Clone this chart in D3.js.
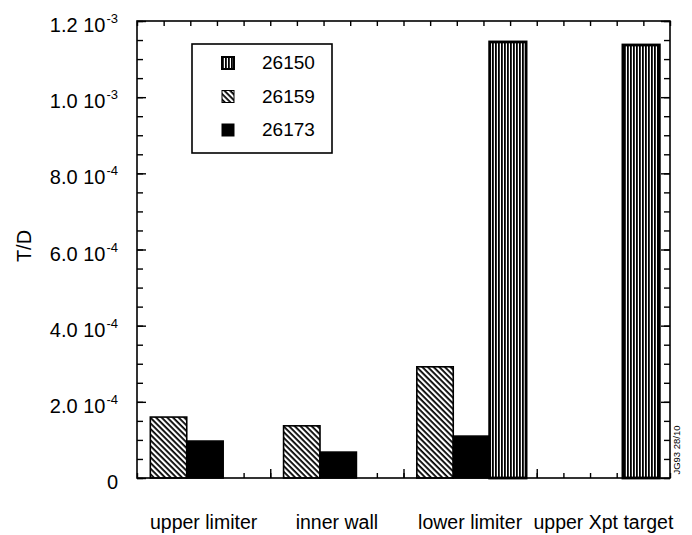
<!DOCTYPE html>
<html>
<head>
<meta charset="utf-8">
<script src="https://cdn.jsdelivr.net/npm/d3@7"></script>
<style>
  body { margin: 0; background: #fff; }
  svg { display: block; font-family: 'Liberation Sans', Arial, sans-serif; }
</style>
</head>
<body>
<svg width="692" height="535"></svg>
<script>
'use strict'

const categories = ['upper limiter', 'inner wall', 'lower limiter', 'upper Xpt target']
const barOrder = ['26159', '26173', '26150']
const legendOrder = ['26150', '26159', '26173']
const shot26150 = [null, null, 1.145e-3, 1.137e-3]
const shot26159 = [1.60e-4, 1.37e-4, 2.92e-4, null]
const shot26173 = [0.97e-4, 0.68e-4, 1.10e-4, null]
const tickValues = [0, 2e-4, 4e-4, 6e-4, 8e-4, 1.0e-3, 1.2e-3]
const tickMantissa = ['0', '2.0 10', '4.0 10', '6.0 10', '8.0 10', '1.0 10', '1.2 10']
const tickExponent = [null, '-4', '-4', '-4', '-4', '-3', '-3']

const values = { 26150: shot26150, 26159: shot26159, 26173: shot26173 }
const fills = { 26150: 'url(#vert)', 26159: 'url(#diag)', 26173: '#000' }

const plotLeft = 137
const plotRight = 670
const plotTop = 21
const plotBottom = 478

const svg = d3.select('svg')

const y = d3.scaleLinear().domain([0, 1.2e-3]).range([plotBottom, plotTop])
const x0 = d3.scaleBand().domain(categories).range([plotLeft, plotRight])
const x1 = d3.scaleBand().domain(barOrder)
  .range([x0.bandwidth() * 0.1, x0.bandwidth() * 0.92])
const xTicks = d3.scaleLinear().domain([0, 20]).range([plotLeft, plotRight])

function makePatterns () {
  const defs = svg.append('defs')

  const vert = defs.append('pattern')
    .attr('id', 'vert')
    .attr('patternUnits', 'userSpaceOnUse')
    .attr('width', 3)
    .attr('height', 10)
  vert.append('rect').attr('width', 3).attr('height', 10).attr('fill', '#fff')
  vert.append('rect').attr('width', 1.8).attr('height', 10).attr('fill', '#000')

  const diag = defs.append('pattern')
    .attr('id', 'diag')
    .attr('patternUnits', 'userSpaceOnUse')
    .attr('width', 4)
    .attr('height', 4)
    .attr('patternTransform', 'rotate(45)')
  diag.append('rect').attr('width', 4).attr('height', 4).attr('fill', '#fff')
  diag.append('rect').attr('width', 4).attr('height', 1.8).attr('fill', '#000')
}

function drawAxes () {
  const minor = d3.range(0, 24.5).map(i => i * 5e-5)

  svg.append('g')
    .attr('transform', `translate(${plotLeft},0)`)
    .call(d3.axisRight(y).tickValues(minor).tickSize(6).tickFormat(''))
  svg.append('g')
    .attr('transform', `translate(${plotLeft},0)`)
    .call(d3.axisRight(y).tickValues(tickValues).tickSize(9).tickFormat(''))
  svg.append('g')
    .attr('transform', `translate(${plotRight},0)`)
    .call(d3.axisLeft(y).tickValues(minor).tickSize(6).tickFormat(''))
  svg.append('g')
    .attr('transform', `translate(${plotRight},0)`)
    .call(d3.axisLeft(y).tickValues(tickValues).tickSize(9).tickFormat(''))

  svg.append('g')
    .attr('transform', `translate(0,${plotTop})`)
    .call(d3.axisBottom(xTicks).ticks(20).tickSize(5).tickFormat(''))
  svg.append('g')
    .attr('transform', `translate(0,${plotBottom})`)
    .call(d3.axisTop(xTicks).ticks(20).tickSize(5).tickFormat(''))
  svg.append('g')
    .attr('transform', `translate(0,${plotBottom})`)
    .call(d3.axisTop(xTicks).tickValues([5, 10, 15]).tickSize(9).tickFormat(''))

  svg.selectAll('.domain').remove()
  svg.selectAll('.tick line').attr('stroke', '#000').attr('stroke-width', 1.4)

  const labels = svg.append('g')
    .attr('font-size', 20)
    .attr('text-anchor', 'end')
  const lab = labels.selectAll('text')
    .data(tickValues)
    .enter().append('text')
    .attr('x', 118)
    .attr('y', d => y(d) + 11)
  lab.append('tspan').text((d, i) => tickMantissa[i])
  lab.filter((d, i) => tickExponent[i])
    .append('tspan')
    .attr('font-size', 13)
    .attr('dx', 1)
    .attr('dy', -9)
    .text(d => tickExponent[tickValues.indexOf(d)])

  svg.append('text')
    .attr('transform', 'translate(31,246) rotate(-90)')
    .attr('text-anchor', 'middle')
    .attr('font-size', 20)
    .text('T/D')

  svg.append('g')
    .attr('font-size', 19.5)
    .attr('text-anchor', 'middle')
    .selectAll('text')
    .data(categories)
    .enter().append('text')
    .attr('x', d => x0(d) + x0.bandwidth() / 2)
    .attr('y', 529)
    .text(d => d)
}

function drawBars () {
  const rows = []
  categories.forEach((c, i) => {
    barOrder.forEach(s => {
      if (values[s][i] != null) rows.push({ cat: c, shot: s, value: values[s][i] })
    })
  })

  svg.append('g')
    .selectAll('rect')
    .data(rows)
    .enter().append('rect')
    .attr('x', d => x0(d.cat) + x1(d.shot))
    .attr('y', d => y(d.value))
    .attr('width', x1.bandwidth())
    .attr('height', d => y(0) - y(d.value))
    .attr('fill', d => fills[d.shot])
    .attr('stroke', '#000')
    .attr('stroke-width', d => d.shot === '26150' ? 2.8 : 1.6)
}

function drawFrame () {
  svg.append('rect')
    .attr('x', plotLeft)
    .attr('y', plotTop)
    .attr('width', plotRight - plotLeft)
    .attr('height', plotBottom - plotTop)
    .attr('fill', 'none')
    .attr('stroke', '#000')
    .attr('stroke-width', 1.6)
}

function drawLegend () {
  const g = svg.append('g')
  g.append('rect')
    .attr('x', 192)
    .attr('y', 44)
    .attr('width', 140)
    .attr('height', 109)
    .attr('fill', '#fff')
    .attr('stroke', '#000')
    .attr('stroke-width', 1.6)

  const item = g.selectAll('g.item')
    .data(legendOrder)
    .enter().append('g')
    .attr('class', 'item')
    .attr('transform', (d, i) => `translate(0,${69 + i * 33.5})`)
  item.append('rect')
    .attr('x', 222)
    .attr('y', -12)
    .attr('width', 12)
    .attr('height', 12)
    .attr('fill', d => fills[d])
    .attr('stroke', '#000')
    .attr('stroke-width', d => d === '26150' ? 2 : 1)
  item.append('text')
    .attr('x', 262)
    .attr('font-size', 19)
    .text(d => d)
}

function drawStamp () {
  svg.append('text')
    .attr('transform', 'translate(680,450) rotate(-90)')
    .attr('text-anchor', 'middle')
    .attr('font-size', 9.5)
    .text('JG93 28/10')
}

makePatterns()
drawAxes()
drawBars()
drawFrame()
drawLegend()
drawStamp()
</script>
</body>
</html>
